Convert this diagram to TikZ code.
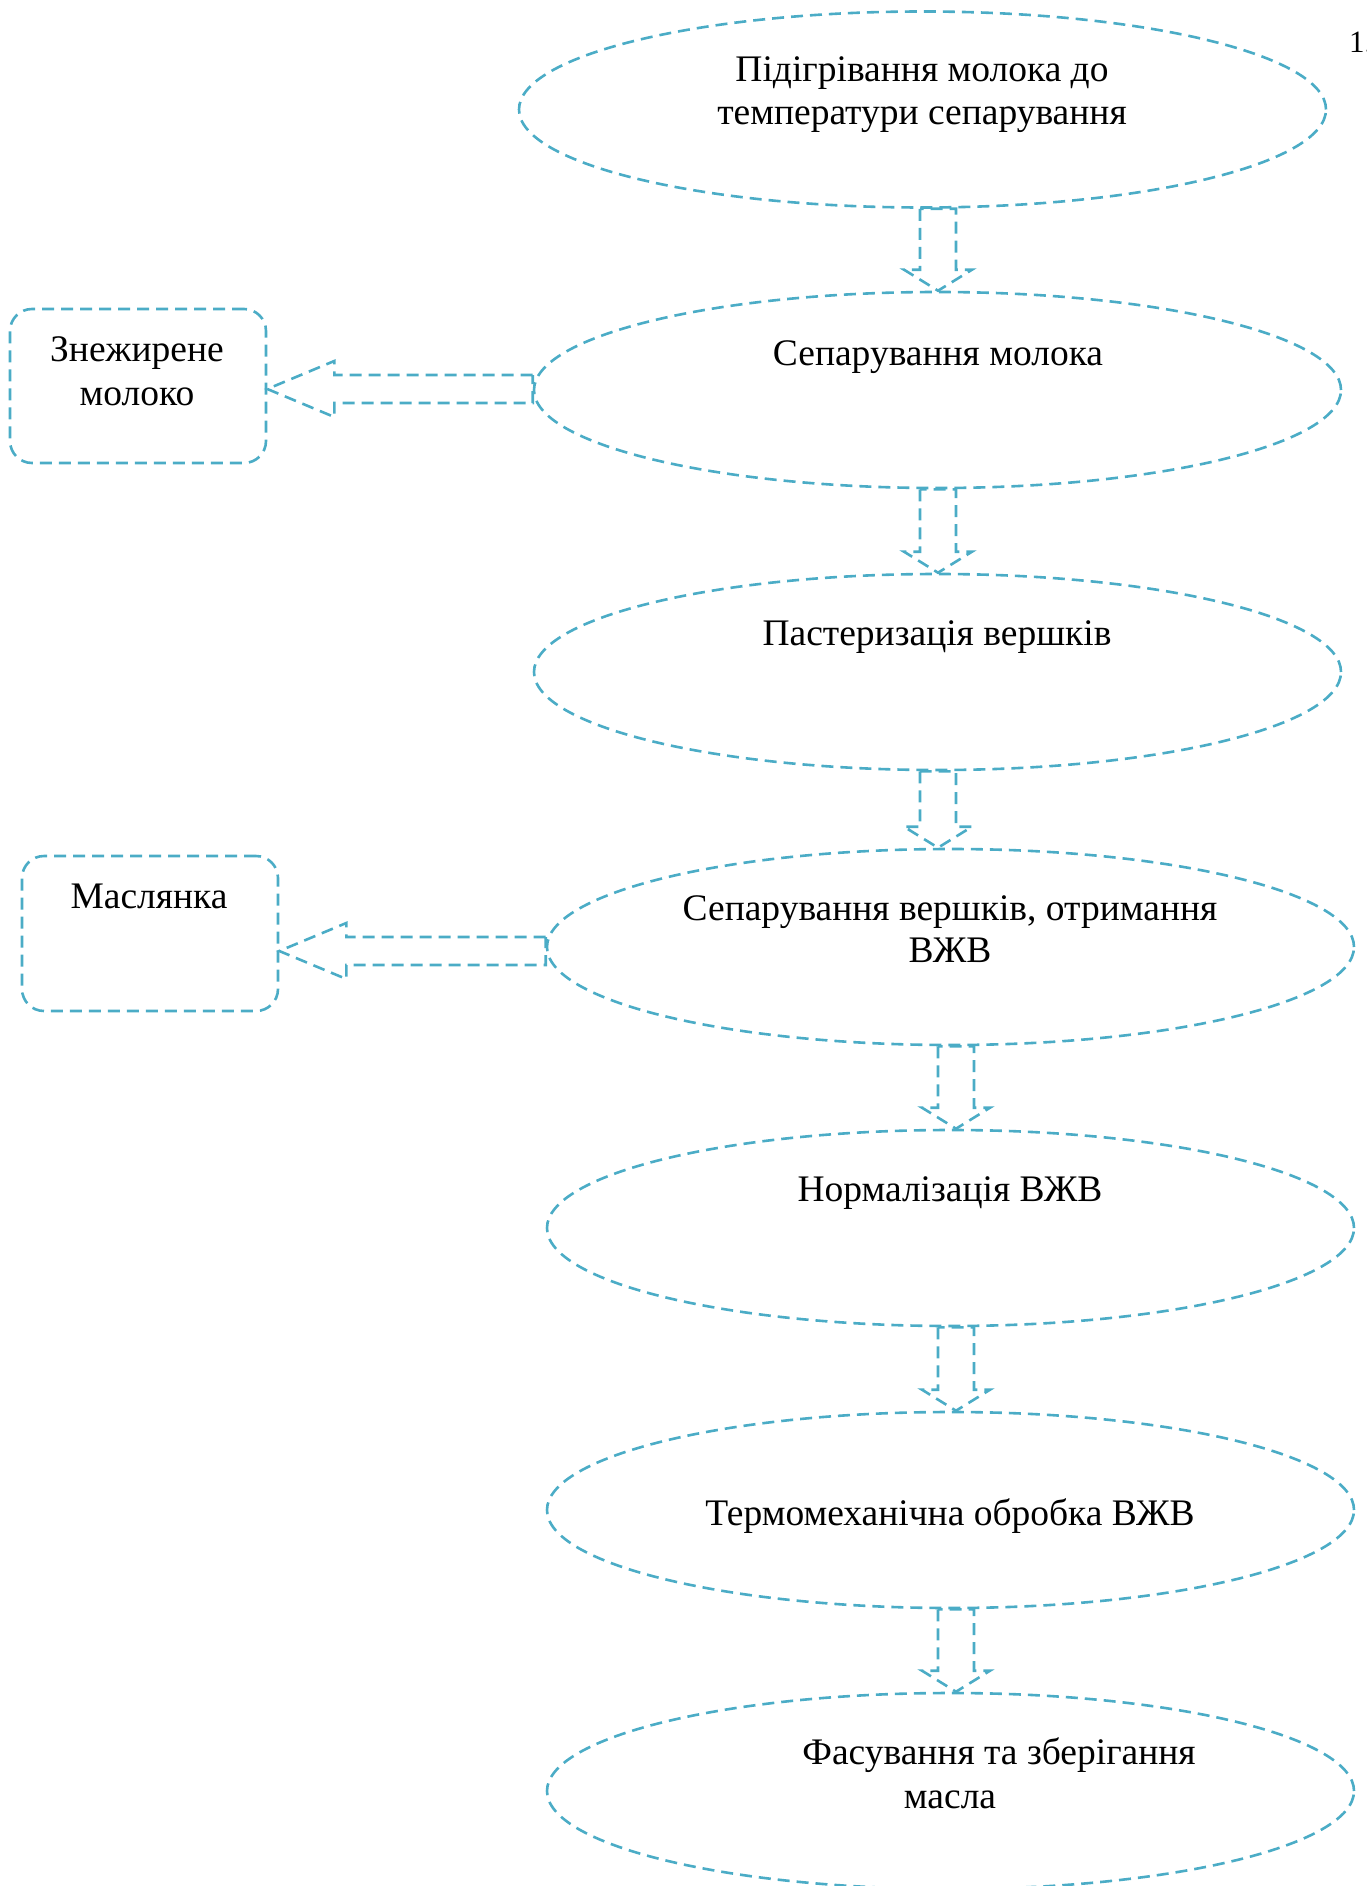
\documentclass[tikz,border=0pt]{standalone}
\usepackage{fontspec}
\setmainfont{Liberation Serif}
\usetikzlibrary{shapes.geometric,calc}
\definecolor{aqua}{HTML}{4BACC6}
\tikzset{
  flow/.style={draw=aqua, line width=2.6pt, dash pattern=on 12pt off 7pt, line join=miter},
  oval/.style={flow, ellipse, minimum width=807pt, minimum height=196pt, inner sep=0pt},
  sidebox/.style={flow, rectangle, rounded corners=22pt, minimum width=256pt, minimum height=154pt, inner sep=0pt},
  txt/.style={anchor=base, inner sep=0pt, font=\fontsize{37.5}{43}\selectfont},
}
\newcommand{\varrow}[3]{%
  \draw[flow] let \p1=(#1.south), \p2=(#2.north) in
    ({#3pt-18pt},{\y1}) -- ({#3pt-18pt},{\y2+21pt}) -- ({#3pt-34pt},{\y2+21pt}) --
    ({#3pt},{\y2}) -- ({#3pt+34pt},{\y2+21pt}) -- ({#3pt+18pt},{\y2+21pt}) --
    ({#3pt+18pt},{\y1}) -- cycle;}
\newcommand{\harrow}[3]{%
  \draw[flow] let \p1=(#1.west), \p2=(#2.east) in
    ({\x1},{-#3pt+14pt}) -- ({\x2+67pt},{-#3pt+14pt}) -- ({\x2+67pt},{-#3pt+28pt}) --
    ({\x2},{-#3pt}) -- ({\x2+67pt},{-#3pt-28pt}) -- ({\x2+67pt},{-#3pt-14pt}) --
    ({\x1},{-#3pt-14pt}) -- cycle;}
\begin{document}
\begin{tikzpicture}[x=1pt,y=-1pt]
\useasboundingbox (0,0) rectangle (1366,1886);
% ellipses
\node[oval] (e1) at (922.5,109.5) {};
\node[oval] (e2) at (937.5,390) {};
\node[oval] (e3) at (937.5,672) {};
\node[oval] (e4) at (950.5,947) {};
\node[oval] (e5) at (950.5,1228) {};
\node[oval] (e6) at (950.5,1510) {};
\node[oval] (e7) at (950.5,1791) {};
% side boxes
\node[sidebox] (b1) at (138,386) {};
\node[sidebox, minimum height=155pt] (b2) at (150,933.5) {};
% texts
\node[txt] (t1a) at (922,82) {Підігрівання молока до};
\node[txt] (t1b) at (922,125) {температури сепарування};
\node[txt] (t2) at (938,365) {Сепарування молока};
\node[txt] (t3) at (937,645) {Пастеризація вершків};
\node[txt] (t4a) at (950,920) {Сепарування вершків, отримання};
\node[txt] (t4b) at (950,962) {ВЖВ};
\node[txt] (t5) at (950,1201) {Нормалізація ВЖВ};
\node[txt] (t6) at (950,1525) {Термомеханічна обробка ВЖВ};
\node[txt] (t7a) at (999,1764) {Фасування та зберігання};
\node[txt] (t7b) at (950,1808) {масла};
\node[txt] (tb1a) at (137,361) {Знежирене};
\node[txt] (tb1b) at (137,405) {молоко};
\node[txt] (tb2) at (149,908) {Маслянка};
\node[anchor=base west, inner sep=0pt, font=\fontsize{31}{37}\selectfont] (num) at (1349,53) {1.};
% arrows
\varrow{e1}{e2}{938}
\varrow{e2}{e3}{938}
\varrow{e3}{e4}{938}
\varrow{e4}{e5}{956}
\varrow{e5}{e6}{956}
\varrow{e6}{e7}{956}
\harrow{e2}{b1}{389}
\harrow{e4}{b2}{951}
\end{tikzpicture}
\end{document}
